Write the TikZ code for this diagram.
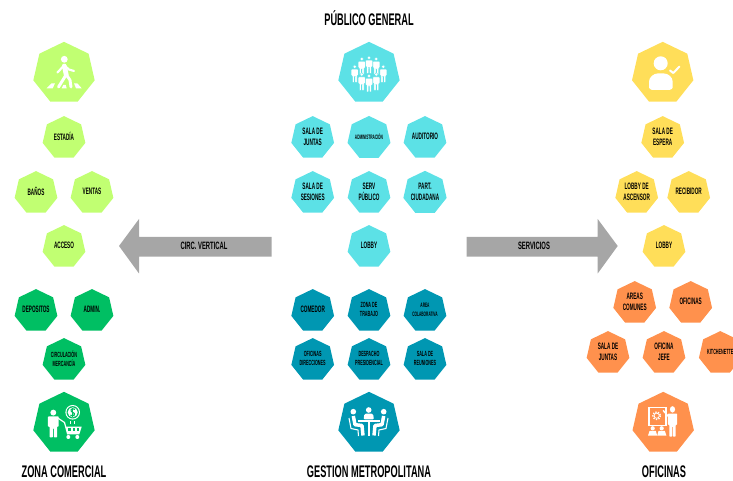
\documentclass[tikz,border=0pt]{standalone}
\usepackage{fontspec}
\setmainfont[FakeStretch=0.55]{Liberation Sans}
\newfontfamily\cellfont[FakeStretch=0.5]{Liberation Sans}
\usetikzlibrary{shapes.geometric}

\definecolor{limec}{HTML}{C1FF72}
\definecolor{greenc}{HTML}{00BF63}
\definecolor{cyanc}{HTML}{5CE1E6}
\definecolor{tealc}{HTML}{0097B2}
\definecolor{yellowc}{HTML}{FFDE59}
\definecolor{orangec}{HTML}{FF914D}
\definecolor{arrowc}{HTML}{A6A6A6}

\tikzset{
  hepta/.style={regular polygon, regular polygon sides=7, inner sep=0pt, outer sep=0pt, text=black, align=center, text depth=2pt},
  bighepta/.style={hepta, minimum size=47.2pt},
  cell/.style={hepta, minimum size=32.85pt, font=\cellfont\fontsize{7}{8.25}\selectfont\bfseries},
  cellsmall/.style={cell, font=\cellfont\fontsize{5.6}{7}\selectfont\bfseries},
  celltiny/.style={cell, font=\cellfont\fontsize{4.8}{7}\selectfont\bfseries},
  title/.style={font=\fontsize{12.6}{14}\selectfont\bfseries, text=black, inner sep=0pt},
  arrowlabel/.style={font=\fontsize{8}{10}\selectfont\bfseries, text=black, inner sep=0pt},
  person/.pic={
    \path[fill=white, pic actions] (0,2) circle [radius=1.9];
    \path[fill=white, pic actions, rounded corners=0.5pt] (-3.5,4.5)--(3.5,4.5)--(3.5,11)--(2.4,11)--(2.4,18)--(0.3,18)--(0.3,12)--(-0.3,12)--(-0.3,18)--(-2.4,18)--(-2.4,11)--(-3.5,11)--cycle;
  }
}

\begin{document}
\begin{tikzpicture}[x=0.75pt,y=-0.75pt]
\useasboundingbox (0,0) rectangle (733,481);

% arrows
\fill[arrowc] (271.5,237)--(139,237)--(139,219)--(119,246)--(139,273.5)--(139,256.7)--(271.5,256.7)--cycle;
\fill[arrowc] (466.7,237)--(597.7,237)--(597.7,219)--(617.7,246)--(597.7,273.5)--(597.7,256.7)--(466.7,256.7)--cycle;
\node[arrowlabel] (circ) at (204,245.7) {CIRC. VERTICAL};
\node[arrowlabel] (servicios) at (534,245.7) {SERVICIOS};

% titles
\node[title] (publico) at (369,18) {PÚBLICO GENERAL};
\node[title] (comercial) at (64,471.7) {ZONA COMERCIAL};
\node[title] (gestion) at (369,471.7) {GESTION METROPOLITANA};
\node[title] (oficinas) at (664,471.7) {OFICINAS};

% lime
\node[bighepta, fill=limec] (iconwalk) at (64,73.3) {};
\node[cell, fill=limec] (estadia) at (64,138) {ESTADÍA};
\node[cell, fill=limec] (banos) at (36,193) {BAÑOS};
\node[cell, fill=limec] (ventas) at (92,193) {VENTAS};
\node[cell, fill=limec] (acceso) at (64,247) {ACCESO};

% green
\node[cell, fill=greenc] (depositos) at (36,311) {DEPOSITOS};
\node[cell, fill=greenc] (admin) at (92,311) {ADMIN.};
\node[cellsmall, fill=greenc] (circulacion) at (64,360) {CIRCULACIÓN\\MERCANCÍA};
\node[bighepta, fill=greenc] (iconcart) at (64,423.3) {};

% cyan
\node[bighepta, fill=cyanc] (icongroup) at (369,73.3) {};
\node[cell, fill=cyanc] (juntas) at (312.7,138) {SALA DE\\JUNTAS};
\node[celltiny, fill=cyanc] (administracion) at (369,138) {ADMINISTRACIÓN};
\node[cell, fill=cyanc] (auditorio) at (425,138) {AUDITORIO};
\node[cell, fill=cyanc] (sesiones) at (312.7,193) {SALA DE\\SESIONES};
\node[cell, fill=cyanc] (serv) at (369,193) {SERV\\PÚBLICO};
\node[cell, fill=cyanc] (part) at (425,193) {PART.\\CIUDADANA};
\node[cell, fill=cyanc] (lobbyc) at (369,247) {LOBBY};

% teal
\node[cell, fill=tealc] (comedor) at (312.7,311) {COMEDOR};
\node[cellsmall, fill=tealc] (zona) at (369,311) {ZONA DE\\TRABAJO};
\node[celltiny, fill=tealc] (area) at (425,311) {AREA\\COLABORATIVA};
\node[cellsmall, fill=tealc] (direcciones) at (312.7,360) {OFICINAS\\DIRECCIONES};
\node[cellsmall, fill=tealc] (despacho) at (369,360) {DESPACHO\\PRESIDENCIAL};
\node[cellsmall, fill=tealc] (reuniones) at (425,360) {SALA DE\\REUNIONES};
\node[bighepta, fill=tealc] (iconmeet) at (369,423.3) {};

% yellow
\node[bighepta, fill=yellowc] (iconuser) at (662.7,73.3) {};
\node[cell, fill=yellowc] (espera) at (662.7,138) {SALA DE\\ESPERA};
\node[cell, fill=yellowc] (ascensor) at (636.7,193) {LOBBY DE\\ASCENSOR};
\node[cell, fill=yellowc] (recibidor) at (688.7,193) {RECIBIDOR};
\node[cell, fill=yellowc] (lobbyy) at (664,247) {LOBBY};

% orange
\node[cell, fill=orangec] (areas) at (634.7,303) {AREAS\\COMUNES};
\node[cell, fill=orangec] (oficinasb) at (690.7,303) {OFICINAS};
\node[cell, fill=orangec] (juntasb) at (608,353) {SALA DE\\JUNTAS};
\node[cell, fill=orangec] (jefe) at (664,353) {OFICINA\\JEFE};
\node[cellsmall, fill=orangec] (kitchenette) at (720.3,353) {KITCHENETTE};
\node[bighepta, fill=orangec] (iconboard) at (663.2,423.3) {};

% walking
\fill[white] (64.3,59.3) circle [radius=3.4];
\draw[white, line width=3.6pt, line cap=round, line join=round] (64.3,66)--(66.3,75);
\draw[white, line width=1.6pt, line cap=round, line join=round] (63.5,66)--(57.5,72.5);
\draw[white, line width=1.6pt, line cap=round, line join=round] (65,66)--(69,69.5)--(74,71);
\draw[white, line width=2.2pt, line cap=round, line join=round] (66,75)--(58.5,87);
\draw[white, line width=2.2pt, line cap=round, line join=round] (66.5,75)--(70,80)--(71,87);
\fill[white] (46.7,88.3)--(51.7,83.3)--(55,83.3)--(52.7,88.3)--cycle;
\fill[white] (61.7,88.3)--(63.3,85)--(65.7,85)--(66.7,88.3)--cycle;
\fill[white] (74,83.3)--(77.3,83.3)--(81.7,88.3)--(76,88.3)--cycle;

% group
\pic[draw=cyanc, line width=0.3pt] at (361.7,57) {person};
\pic[draw=cyanc, line width=0.3pt] at (376.3,57) {person};
\pic[draw=cyanc, line width=0.3pt] at (369,55.7) {person};
\pic[draw=cyanc, line width=0.3pt] at (354.7,64.7) {person};
\pic[draw=cyanc, line width=0.3pt] at (383.3,64.7) {person};
\pic[draw=cyanc, line width=0.3pt] at (361.7,72.5) {person};
\pic[draw=cyanc, line width=0.3pt] at (376.3,72.5) {person};
\pic[draw=cyanc, line width=0.3pt] at (369,74) {person};

% user
\fill[white] (660.7,63.3) circle [radius=7];
\fill[white, rounded corners=2.5pt] (649,90)--(649,85) .. controls (649,77) and (654,73.5) .. (660.8,73.5) .. controls (668,73.5) and (672.7,77) .. (672.7,85)--(672.7,90)--cycle;
\draw[white, line width=1.5pt, line cap=round, line join=round] (670,70.5)--(673.3,73)--(679.3,66.7);

% shopper
\pic[scale=1.55] at (53.3,409.5) {person};
\draw[white, line width=0.9pt] (57,417.5)--(64.5,422.5)--(67.7,434.3);
\fill[white] (65.7,426.7)--(81.7,426.7)--(79.3,434.3)--(67.7,434.3)--cycle;
\fill[greenc] (68.3,428.5) rectangle (70.6,431);
\fill[greenc] (72.7,428.5) rectangle (75,431);
\fill[greenc] (77.1,428.5) rectangle (79.4,431);
\fill[white] (68.3,437) circle [radius=2];
\fill[white] (77.3,437) circle [radius=2];
\fill[white] (72.7,412.3) circle [radius=7.3];
\fill[greenc] (72.7,412.3) circle [radius=6.2];
\fill[white] (72.7,412.3) circle [radius=5];
\draw[greenc, line width=0.9pt] (75,409.3) .. controls (71,407.5) and (69.5,411) .. (72.7,412.3) .. controls (76,413.6) and (74.5,417) .. (70.4,415.3);
\draw[greenc, line width=0.6pt] (72.7,407.8)--(72.7,416.8);
\fill[white] (70.2,421) rectangle (71.4,424.5);
\fill[white] (74,421) rectangle (75.2,424.5);

% meeting
\fill[white] (353.3,411.7) circle [radius=2.8];
\fill[white] (368.7,410) circle [radius=2.8];
\fill[white] (383.7,411.7) circle [radius=2.8];
\fill[white, rounded corners=1pt] (363.5,419.5)--(364.5,413.7)--(373,413.7)--(374,419.5)--cycle;
\draw[white, line width=1.3pt] (358.3,421)--(380,421);
\draw[white, line width=2.2pt] (369,421)--(369,436);
\draw[white, line width=2.6pt, line join=round] (353.3,416)--(355,424.7)--(362,425.5)--(363,435.5);
\draw[white, line width=2.6pt, line join=round] (383.7,416)--(382,424.7)--(375,425.5)--(374,435.5);
\draw[white, line width=0.8pt, line join=round] (349,418)--(351,428.5)--(358,430)--(358.5,436);
\draw[white, line width=0.8pt, line join=round] (388,418)--(386,428.5)--(379,430)--(378.5,436);

% presenter
\draw[white, line width=0.8pt] (649,407.7) rectangle (666,425.7);
\draw[white, line width=0.6pt] (656.7,415.7) circle [radius=2.6];
\draw[white, line width=1pt, dash pattern=on 1pt off 1pt] (656.7,415.7) circle [radius=3.8];
\pic[xscale=1.35, yscale=1.7] at (672.5,406) {person};
\draw[white, line width=1.1pt, line cap=round] (663.3,410.7)--(668.5,416.5);
\fill[white] (652.7,428.3) circle [radius=2.1];
\fill[white] (661.7,428.3) circle [radius=2.1];
\fill[white] (648,435.7)--(649.5,431)--(655.9,431)--(657.2,435.7)--cycle;
\fill[white] (657.2,435.7)--(658.5,431)--(664.9,431)--(666.4,435.7)--cycle;

\end{tikzpicture}
\end{document}
